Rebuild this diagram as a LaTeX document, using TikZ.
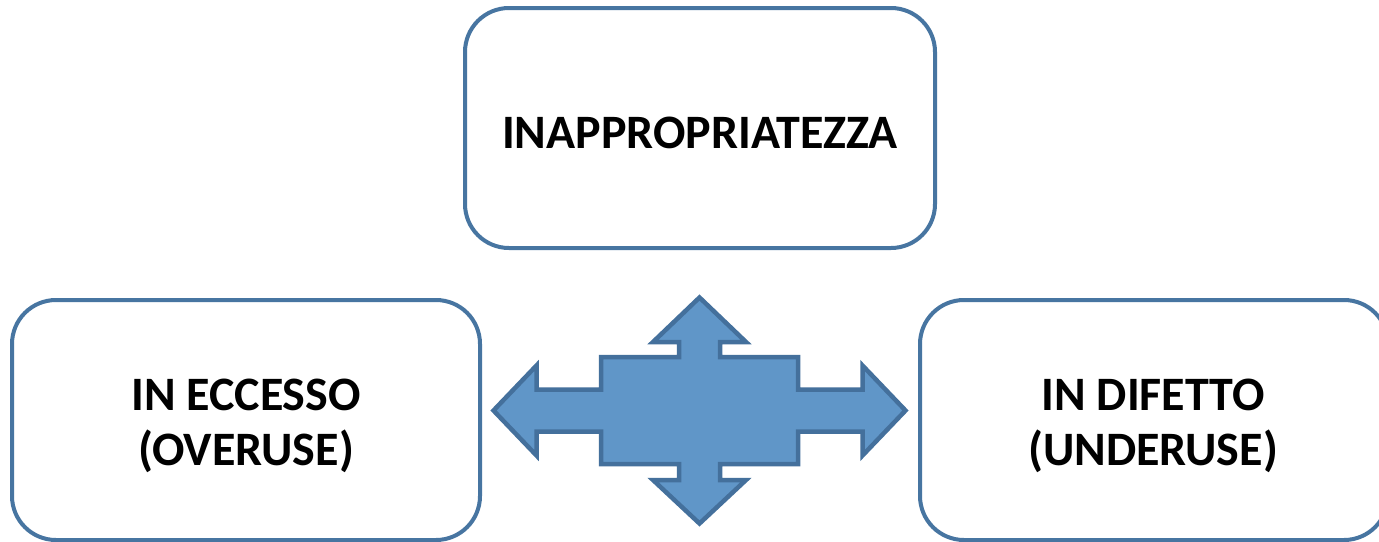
\documentclass[tikz,border=0pt]{standalone}
\usepackage{fontspec}
\setmainfont{Carlito}
\definecolor{boxline}{RGB}{71,117,161}
\definecolor{arrfill}{RGB}{96,150,200}
\definecolor{arrline}{RGB}{68,112,156}
\tikzset{
  termbox/.style={draw=boxline, line width=4pt, rounded corners=44pt, fill=white,
    minimum width=468pt, minimum height=240pt, inner sep=0pt},
  termtext/.style={anchor=base, inner sep=0pt,
    font=\fontsize{48}{55}\selectfont\bfseries},
  bigarrow/.style={draw=arrline, fill=arrfill, line width=4.5pt, line join=miter}
}
\begin{document}
\begin{tikzpicture}[x=1pt,y=-1pt]
\useasboundingbox (0,0) rectangle (1379,541);
\clip (0,0) rectangle (1379,541);
\fill[white] (0,0) rectangle (1379,541);
\node[termbox, minimum width=470pt] (top) at (700,128) {};
\node[termbox] (left) at (246,420) {};
\node[termbox] (right) at (1154,420) {};
\node[termtext] (toptext) at (700,148) {INAPPROPRIATEZZA};
\node[termtext] (lefttext) at (246,410) {\begin{tabular}[t]{@{}c@{}}IN ECCESSO\\(OVERUSE)\end{tabular}};
\node[termtext] (righttext) at (1153,410) {\begin{tabular}[t]{@{}c@{}}IN DIFETTO\\(UNDERUSE)\end{tabular}};
\coordinate (c) at (699.5,410.5);
\begin{scope}[shift={(c)}]
\draw[bigarrow]
  (-98.5,-53.5) -- (-20.5,-53.5) -- (-20.5,-68.5) -- (-46.5,-68.5) -- (0,-113)
  -- (46.5,-68.5) -- (20.5,-68.5) -- (20.5,-53.5) -- (98.5,-53.5) -- (98.5,-21)
  -- (163,-21) -- (163,-45) -- (206,0) -- (163,45) -- (163,21) -- (98.5,21)
  -- (98.5,53.5) -- (20.5,53.5) -- (20.5,69.5) -- (46.5,69.5) -- (0,113)
  -- (-46.5,69.5) -- (-20.5,69.5) -- (-20.5,53.5) -- (-98.5,53.5) -- (-98.5,21)
  -- (-163,21) -- (-163,45) -- (-206,0) -- (-163,-45) -- (-163,-21) -- (-98.5,-21)
  -- cycle;
\end{scope}
\end{tikzpicture}
\end{document}
